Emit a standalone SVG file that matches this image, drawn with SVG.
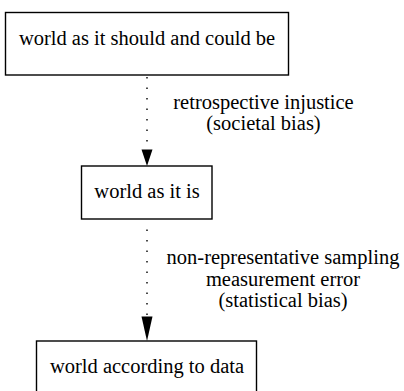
<svg xmlns="http://www.w3.org/2000/svg" width="404" height="391" viewBox="0 0 404 391">
<style>
.box{fill:#fff;stroke:#000;stroke-width:1.4}
.t{font-size:20.5px;fill:#000;text-anchor:middle}
.edge{fill:none;stroke:#000;stroke-width:1.4;stroke-dasharray:1.4,9.1}
.head{fill:#000}
</style>
<rect width="404" height="391" fill="#fff"/>
<g font-family="Times New Roman, Liberation Serif, Tinos, DejaVu Serif, serif">
<g id="edges">
<path class="edge" d="M147 77 V149.5"/>
<polygon class="head" points="141.5,149.5 152.5,149.5 147,166"/>
<path class="edge" d="M147 229.5 V316.5"/>
<polygon class="head" points="141.5,316.5 152.5,316.5 147,341"/>
<text class="t" x="263.5" y="108.5">retrospective injustice</text>
<text class="t" x="263.5" y="129.5">(societal bias)</text>
<text class="t" x="283" y="263.5">non-representative sampling</text>
<text class="t" x="283" y="285.5">measurement error</text>
<text class="t" x="283" y="307">(statistical bias)</text>
</g>
<g id="node1">
<rect class="box" x="5.5" y="12.5" width="283" height="62.5"/>
<text class="t" x="147" y="45">world as it should and could be</text>
</g>
<g id="node2">
<rect class="box" x="81.5" y="166" width="130.5" height="53"/>
<text class="t" x="147" y="198">world as it is</text>
</g>
<g id="node3">
<rect class="box" x="36.5" y="341" width="220" height="60"/>
<text class="t" x="147" y="373">world according to data</text>
</g>
</g>
</svg>
